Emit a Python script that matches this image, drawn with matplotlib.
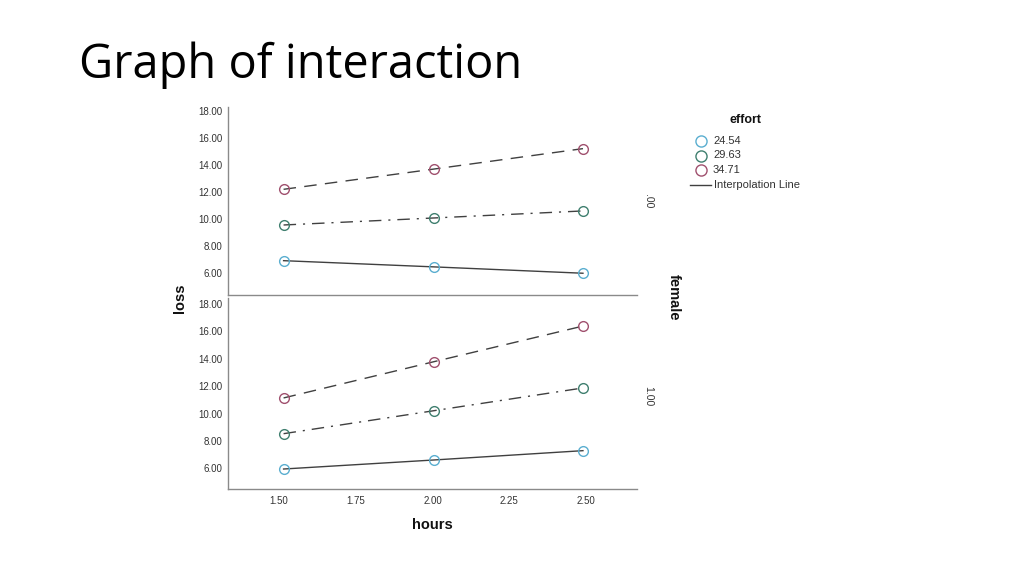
import matplotlib
matplotlib.use("Agg")
import matplotlib.pyplot as plt
from matplotlib.lines import Line2D

hours = [1.515, 2.005, 2.49]
effort_levels = ["24.54", "29.63", "34.71"]
female_levels = [".00", "1.00"]
# loss per female panel, per effort level
loss_female0 = {
    "24.54": [6.93, 6.47, 6.00],
    "29.63": [9.57, 10.09, 10.61],
    "34.71": [12.21, 13.71, 15.22],
}
loss_female1 = {
    "24.54": [5.95, 6.61, 7.29],
    "29.63": [8.53, 10.21, 11.87],
    "34.71": [11.14, 13.79, 16.39],
}
yticks = [6, 8, 10, 12, 14, 16, 18]
xticks = [1.50, 1.75, 2.00, 2.25, 2.50]

marker_colors = {"24.54": "#5aaed0", "29.63": "#3f7f6f", "34.71": "#a0506e"}
line_styles = {"24.54": "-", "29.63": (0, (9, 5, 1.5, 5)), "34.71": (0, (9, 6))}

W, H = 1024, 575
fig = plt.figure(figsize=(W / 100, H / 100), dpi=100)
fig.patch.set_facecolor("white")

def ax_rect(l, t, r, b):
    return [l / W, 1 - b / H, (r - l) / W, (b - t) / H]

def fx(x):
    return x / W

def fy(y):
    return 1 - y / H

ax_top = fig.add_axes(ax_rect(228, 107, 637, 295))
ax_bot = fig.add_axes(ax_rect(228, 298, 637, 489))

FAM = ["Liberation Sans", "DejaVu Sans"]
tick_font = dict(family=FAM, size=7, color="#333333")

for ax, data, ylim in [(ax_top, loss_female0, (4.39, 18.3)), (ax_bot, loss_female1, (4.49, 18.44))]:
    for lvl in effort_levels:
        ax.plot(hours, data[lvl], color="#404040", lw=1.0, linestyle=line_styles[lvl], zorder=2)
        ax.plot(hours, data[lvl], linestyle="none", marker="o", markersize=7,
                markerfacecolor="none", markeredgecolor=marker_colors[lvl], markeredgewidth=1.0, zorder=3)
    ax.set_xlim(1.334, 2.666)
    ax.set_ylim(*ylim)
    ax.set_yticks(yticks)
    ax.set_yticklabels([f"{v:.2f}" for v in yticks], fontdict=tick_font)
    for s in ["top", "right"]:
        ax.spines[s].set_visible(False)
    for s in ["left", "bottom"]:
        ax.spines[s].set_color("#8a8a8a")
        ax.spines[s].set_linewidth(1.0)
    ax.tick_params(axis="both", length=0, pad=4)

ax_top.set_xticks([])
ax_bot.set_xticks(xticks)
ax_bot.set_xticklabels([f"{v:.2f}" for v in xticks], fontdict=tick_font)
ax_bot.tick_params(axis="x", pad=5)

label_font = dict(family=FAM, size=10.5, weight="bold", color="#111111")
fig.text(fx(432), fy(525), "hours", ha="center", va="center", **label_font)
fig.text(fx(180), fy(298), "loss", ha="center", va="center", rotation=90, **label_font)
fig.text(fx(674), fy(297), "female", ha="center", va="center", rotation=-90, **label_font)

strip_font = dict(family=FAM, size=7.5, color="#333333")
fig.text(fx(648), fy(201), female_levels[0], ha="center", va="center", rotation=-90, **strip_font)
fig.text(fx(648), fy(396), female_levels[1], ha="center", va="center", rotation=-90, **strip_font)

# legend (drawn manually in figure coordinates)
fig.text(fx(746), fy(120), "effort", ha="center", va="center", family=FAM, size=9,
         weight="bold", color="#111111")
leg_ys = [141, 155.5, 170]
for lvl, y in zip(effort_levels, leg_ys):
    fig.add_artist(Line2D([fx(701)], [fy(y)], transform=fig.transFigure, linestyle="none",
                          marker="o", markersize=8, markerfacecolor="none",
                          markeredgecolor=marker_colors[lvl], markeredgewidth=1.0))
    fig.text(fx(713), fy(y), lvl, ha="left", va="center", family=FAM, size=8, color="#333333")
fig.add_artist(Line2D([fx(690), fx(711)], [fy(185), fy(185)], transform=fig.transFigure,
                      color="#404040", lw=1.0))
fig.text(fx(714), fy(185), "Interpolation Line", ha="left", va="center", family=FAM, size=8,
         color="#333333")

fig.text(fx(79), fy(78), "Graph of interaction", ha="left", va="baseline",
         family=["Open Sans", "DejaVu Sans"], size=33.8, color="#000000")

fig.savefig("out.png", dpi=100, facecolor="white")
